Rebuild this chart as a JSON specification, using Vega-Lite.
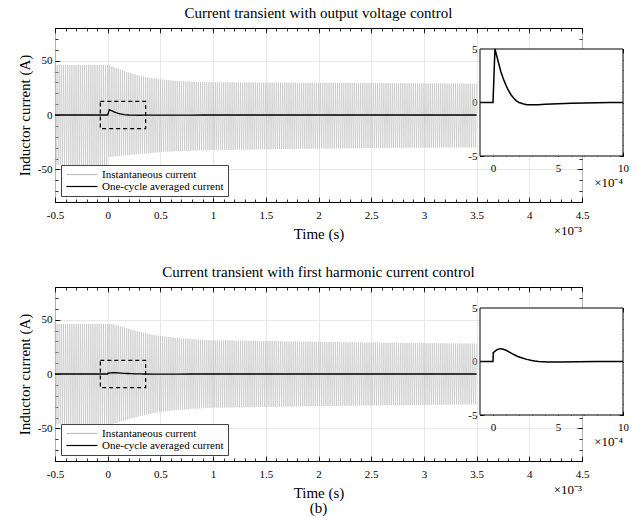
{
"$schema":"https://vega.github.io/schema/vega-lite/v6.json",
"padding":{"left":16,"top":5,"right":4,"bottom":0},
"title":{"text":"(b)","orient":"bottom","anchor":"middle","frame":"group","fontSize":15,"offset":0},
"spacing":22,
"resolve":{"scale":{"color":"independent"},"legend":{"color":"independent"}},
"datasets":{
"g1":[{"t":-0.5,"i":46},{"t":-0.49,"i":-46},{"t":-0.48,"i":46},{"t":-0.47,"i":-46},{"t":-0.46,"i":46},{"t":-0.45,"i":-46},{"t":-0.44,"i":46},{"t":-0.43,"i":-46},{"t":-0.42,"i":46},{"t":-0.41,"i":-46},{"t":-0.4,"i":46},{"t":-0.39,"i":-46},{"t":-0.38,"i":46},{"t":-0.37,"i":-46},{"t":-0.36,"i":46},{"t":-0.35,"i":-46},{"t":-0.34,"i":46},{"t":-0.33,"i":-46},{"t":-0.32,"i":46},{"t":-0.31,"i":-46},{"t":-0.3,"i":46},{"t":-0.29,"i":-46},{"t":-0.28,"i":46},{"t":-0.27,"i":-46},{"t":-0.26,"i":46},{"t":-0.25,"i":-46},{"t":-0.24,"i":46},{"t":-0.23,"i":-46},{"t":-0.22,"i":46},{"t":-0.21,"i":-46},{"t":-0.2,"i":46},{"t":-0.19,"i":-46},{"t":-0.18,"i":46},{"t":-0.17,"i":-46},{"t":-0.16,"i":46},{"t":-0.15,"i":-46},{"t":-0.14,"i":46},{"t":-0.13,"i":-46},{"t":-0.12,"i":46},{"t":-0.11,"i":-46},{"t":-0.1,"i":46},{"t":-0.09,"i":-46},{"t":-0.08,"i":46},{"t":-0.07,"i":-46},{"t":-0.06,"i":46},{"t":-0.05,"i":-46},{"t":-0.04,"i":46},{"t":-0.03,"i":-46},{"t":-0.02,"i":46},{"t":-0.01,"i":-46},{"t":0,"i":46},
{"t":0.01,"i":-38.5},{"t":0.02,"i":45.5},{"t":0.03,"i":-38.4},{"t":0.04,"i":44.8},{"t":0.05,"i":-38.2},{"t":0.06,"i":44},{"t":0.07,"i":-38.1},{"t":0.08,"i":43.2},{"t":0.09,"i":-37.9},{"t":0.1,"i":42.5},{"t":0.11,"i":-37.7},{"t":0.12,"i":41.7},{"t":0.13,"i":-37.5},{"t":0.14,"i":41},{"t":0.15,"i":-37.3},{"t":0.16,"i":40.3},{"t":0.17,"i":-37.1},{"t":0.18,"i":39.6},{"t":0.19,"i":-36.9},{"t":0.2,"i":39},
{"t":0.21,"i":-36.7},{"t":0.22,"i":38.4},{"t":0.23,"i":-36.5},{"t":0.24,"i":37.8},{"t":0.25,"i":-36.3},{"t":0.26,"i":37.3},{"t":0.27,"i":-36.1},{"t":0.28,"i":36.8},{"t":0.29,"i":-35.9},{"t":0.3,"i":36.3},{"t":0.31,"i":-35.7},{"t":0.32,"i":35.8},{"t":0.33,"i":-35.5},{"t":0.34,"i":35.4},{"t":0.35,"i":-35.35},{"t":0.36,"i":35},{"t":0.37,"i":-35.2},{"t":0.38,"i":34.6},{"t":0.39,"i":-35.05},{"t":0.4,"i":34.2},
{"t":0.41,"i":-34.9},{"t":0.42,"i":33.9},{"t":0.43,"i":-34.75},{"t":0.44,"i":33.6},{"t":0.45,"i":-34.6},{"t":0.46,"i":33.3},{"t":0.47,"i":-34.45},{"t":0.48,"i":33},{"t":0.49,"i":-34.3},{"t":0.5,"i":32.8},{"t":0.51,"i":-34.15},{"t":0.52,"i":32.6},{"t":0.53,"i":-34},{"t":0.54,"i":32.4},{"t":0.55,"i":-33.9},{"t":0.56,"i":32.2},{"t":0.57,"i":-33.8},{"t":0.58,"i":32},{"t":0.59,"i":-33.7},{"t":0.6,"i":31.8},
{"t":0.61,"i":-33.6},{"t":0.62,"i":31.7},{"t":0.63,"i":-33.5},{"t":0.64,"i":31.5},{"t":0.65,"i":-33.4},{"t":0.66,"i":31.4},{"t":0.67,"i":-33.3},{"t":0.68,"i":31.2},{"t":0.69,"i":-33.2},{"t":0.7,"i":31.1},{"t":0.71,"i":-33.1},{"t":0.72,"i":31},{"t":0.73,"i":-33},{"t":0.74,"i":30.9},{"t":0.75,"i":-32.9},{"t":0.76,"i":30.8},{"t":0.77,"i":-32.9},{"t":0.78,"i":30.7},{"t":0.79,"i":-32.8},{"t":0.8,"i":30.6},
{"t":0.81,"i":-32.8},{"t":0.82,"i":30.5},{"t":0.83,"i":-32.7},{"t":0.84,"i":30.5},{"t":0.85,"i":-32.7},{"t":0.86,"i":30.4},{"t":0.87,"i":-32.6},{"t":0.88,"i":30.4},{"t":0.89,"i":-32.6},{"t":0.9,"i":30.3},{"t":0.91,"i":-32.5},{"t":0.92,"i":30.3},{"t":0.93,"i":-32.5},{"t":0.94,"i":30.2},{"t":0.95,"i":-32.4},{"t":0.96,"i":30.2},{"t":0.97,"i":-32.4},{"t":0.98,"i":30.1},{"t":0.99,"i":-32.3},{"t":1,"i":30.1},
{"t":1.01,"i":-32.1},{"t":1.02,"i":30},{"t":1.03,"i":-32.1},{"t":1.04,"i":30},{"t":1.05,"i":-32.1},{"t":1.06,"i":30},{"t":1.07,"i":-32.1},{"t":1.08,"i":30},{"t":1.09,"i":-32.1},{"t":1.1,"i":30},{"t":1.11,"i":-32.1},{"t":1.12,"i":30},{"t":1.13,"i":-32.1},{"t":1.14,"i":30},{"t":1.15,"i":-32.1},{"t":1.16,"i":30},{"t":1.17,"i":-32.1},{"t":1.18,"i":30},{"t":1.19,"i":-32.1},{"t":1.2,"i":30},
{"t":1.21,"i":-31.8},{"t":1.22,"i":29.9},{"t":1.23,"i":-31.8},{"t":1.24,"i":29.9},{"t":1.25,"i":-31.8},{"t":1.26,"i":29.9},{"t":1.27,"i":-31.8},{"t":1.28,"i":29.9},{"t":1.29,"i":-31.8},{"t":1.3,"i":29.9},{"t":1.31,"i":-31.8},{"t":1.32,"i":29.9},{"t":1.33,"i":-31.8},{"t":1.34,"i":29.9},{"t":1.35,"i":-31.8},{"t":1.36,"i":29.9},{"t":1.37,"i":-31.8},{"t":1.38,"i":29.9},{"t":1.39,"i":-31.8},{"t":1.4,"i":29.9},
{"t":1.41,"i":-31.5},{"t":1.42,"i":29.8},{"t":1.43,"i":-31.5},{"t":1.44,"i":29.8},{"t":1.45,"i":-31.5},{"t":1.46,"i":29.8},{"t":1.47,"i":-31.5},{"t":1.48,"i":29.8},{"t":1.49,"i":-31.5},{"t":1.5,"i":29.8},{"t":1.51,"i":-31.5},{"t":1.52,"i":29.8},{"t":1.53,"i":-31.5},{"t":1.54,"i":29.8},{"t":1.55,"i":-31.5},{"t":1.56,"i":29.8},{"t":1.57,"i":-31.5},{"t":1.58,"i":29.8},{"t":1.59,"i":-31.5},{"t":1.6,"i":29.8},
{"t":1.61,"i":-31.2},{"t":1.62,"i":29.7},{"t":1.63,"i":-31.2},{"t":1.64,"i":29.7},{"t":1.65,"i":-31.2},{"t":1.66,"i":29.7},{"t":1.67,"i":-31.2},{"t":1.68,"i":29.7},{"t":1.69,"i":-31.2},{"t":1.7,"i":29.7},{"t":1.71,"i":-31.2},{"t":1.72,"i":29.7},{"t":1.73,"i":-31.2},{"t":1.74,"i":29.7},{"t":1.75,"i":-31.2},{"t":1.76,"i":29.7},{"t":1.77,"i":-31.2},{"t":1.78,"i":29.7},{"t":1.79,"i":-31.2},{"t":1.8,"i":29.7},
{"t":1.81,"i":-31},{"t":1.82,"i":29.6},{"t":1.83,"i":-31},{"t":1.84,"i":29.6},{"t":1.85,"i":-31},{"t":1.86,"i":29.6},{"t":1.87,"i":-31},{"t":1.88,"i":29.6},{"t":1.89,"i":-31},{"t":1.9,"i":29.6},{"t":1.91,"i":-31},{"t":1.92,"i":29.6},{"t":1.93,"i":-31},{"t":1.94,"i":29.6},{"t":1.95,"i":-31},{"t":1.96,"i":29.6},{"t":1.97,"i":-31},{"t":1.98,"i":29.6},{"t":1.99,"i":-31},{"t":2,"i":29.6},
{"t":2.01,"i":-30.8},{"t":2.02,"i":29.5},{"t":2.03,"i":-30.8},{"t":2.04,"i":29.5},{"t":2.05,"i":-30.8},{"t":2.06,"i":29.5},{"t":2.07,"i":-30.8},{"t":2.08,"i":29.5},{"t":2.09,"i":-30.8},{"t":2.1,"i":29.5},{"t":2.11,"i":-30.8},{"t":2.12,"i":29.5},{"t":2.13,"i":-30.8},{"t":2.14,"i":29.5},{"t":2.15,"i":-30.8},{"t":2.16,"i":29.5},{"t":2.17,"i":-30.8},{"t":2.18,"i":29.5},{"t":2.19,"i":-30.8},{"t":2.2,"i":29.5},
{"t":2.21,"i":-30.6},{"t":2.22,"i":29.4},{"t":2.23,"i":-30.6},{"t":2.24,"i":29.4},{"t":2.25,"i":-30.6},{"t":2.26,"i":29.4},{"t":2.27,"i":-30.6},{"t":2.28,"i":29.4},{"t":2.29,"i":-30.6},{"t":2.3,"i":29.4},{"t":2.31,"i":-30.6},{"t":2.32,"i":29.4},{"t":2.33,"i":-30.6},{"t":2.34,"i":29.4},{"t":2.35,"i":-30.6},{"t":2.36,"i":29.4},{"t":2.37,"i":-30.6},{"t":2.38,"i":29.4},{"t":2.39,"i":-30.6},{"t":2.4,"i":29.4},
{"t":2.41,"i":-30.4},{"t":2.42,"i":29.3},{"t":2.43,"i":-30.4},{"t":2.44,"i":29.3},{"t":2.45,"i":-30.4},{"t":2.46,"i":29.3},{"t":2.47,"i":-30.4},{"t":2.48,"i":29.3},{"t":2.49,"i":-30.4},{"t":2.5,"i":29.3},{"t":2.51,"i":-30.4},{"t":2.52,"i":29.3},{"t":2.53,"i":-30.4},{"t":2.54,"i":29.3},{"t":2.55,"i":-30.4},{"t":2.56,"i":29.3},{"t":2.57,"i":-30.4},{"t":2.58,"i":29.3},{"t":2.59,"i":-30.4},{"t":2.6,"i":29.3},
{"t":2.61,"i":-30.2},{"t":2.62,"i":29.2},{"t":2.63,"i":-30.2},{"t":2.64,"i":29.2},{"t":2.65,"i":-30.2},{"t":2.66,"i":29.2},{"t":2.67,"i":-30.2},{"t":2.68,"i":29.2},{"t":2.69,"i":-30.2},{"t":2.7,"i":29.2},{"t":2.71,"i":-30.2},{"t":2.72,"i":29.2},{"t":2.73,"i":-30.2},{"t":2.74,"i":29.2},{"t":2.75,"i":-30.2},{"t":2.76,"i":29.2},{"t":2.77,"i":-30.2},{"t":2.78,"i":29.2},{"t":2.79,"i":-30.2},{"t":2.8,"i":29.2},
{"t":2.81,"i":-30.1},{"t":2.82,"i":29.1},{"t":2.83,"i":-30.1},{"t":2.84,"i":29.1},{"t":2.85,"i":-30.1},{"t":2.86,"i":29.1},{"t":2.87,"i":-30.1},{"t":2.88,"i":29.1},{"t":2.89,"i":-30.1},{"t":2.9,"i":29.1},{"t":2.91,"i":-30.1},{"t":2.92,"i":29.1},{"t":2.93,"i":-30.1},{"t":2.94,"i":29.1},{"t":2.95,"i":-30.1},{"t":2.96,"i":29.1},{"t":2.97,"i":-30.1},{"t":2.98,"i":29.1},{"t":2.99,"i":-30.1},{"t":3,"i":29.1},
{"t":3.01,"i":-30},{"t":3.02,"i":29},{"t":3.03,"i":-30},{"t":3.04,"i":29},{"t":3.05,"i":-30},{"t":3.06,"i":29},{"t":3.07,"i":-30},{"t":3.08,"i":29},{"t":3.09,"i":-30},{"t":3.1,"i":29},{"t":3.11,"i":-30},{"t":3.12,"i":29},{"t":3.13,"i":-30},{"t":3.14,"i":29},{"t":3.15,"i":-30},{"t":3.16,"i":29},{"t":3.17,"i":-30},{"t":3.18,"i":29},{"t":3.19,"i":-30},{"t":3.2,"i":29},
{"t":3.21,"i":-29.9},{"t":3.22,"i":28.9},{"t":3.23,"i":-29.9},{"t":3.24,"i":28.9},{"t":3.25,"i":-29.9},{"t":3.26,"i":28.9},{"t":3.27,"i":-29.9},{"t":3.28,"i":28.9},{"t":3.29,"i":-29.9},{"t":3.3,"i":28.9},{"t":3.31,"i":-29.9},{"t":3.32,"i":28.9},{"t":3.33,"i":-29.9},{"t":3.34,"i":28.9},{"t":3.35,"i":-29.9},{"t":3.36,"i":28.9},{"t":3.37,"i":-29.9},{"t":3.38,"i":28.9},{"t":3.39,"i":-29.9},{"t":3.4,"i":28.9},
{"t":3.41,"i":-29.8},{"t":3.42,"i":28.8},{"t":3.43,"i":-29.8},{"t":3.44,"i":28.8},{"t":3.45,"i":-29.8},{"t":3.46,"i":28.8},{"t":3.47,"i":-29.8},{"t":3.48,"i":28.8},{"t":3.49,"i":-29.8},{"t":3.5,"i":28.8}],
"g2":[{"t":-0.5,"i":46},{"t":-0.49,"i":-46},{"t":-0.48,"i":46},{"t":-0.47,"i":-46},{"t":-0.46,"i":46},{"t":-0.45,"i":-46},{"t":-0.44,"i":46},{"t":-0.43,"i":-46},{"t":-0.42,"i":46},{"t":-0.41,"i":-46},{"t":-0.4,"i":46},{"t":-0.39,"i":-46},{"t":-0.38,"i":46},{"t":-0.37,"i":-46},{"t":-0.36,"i":46},{"t":-0.35,"i":-46},{"t":-0.34,"i":46},{"t":-0.33,"i":-46},{"t":-0.32,"i":46},{"t":-0.31,"i":-46},{"t":-0.3,"i":46},{"t":-0.29,"i":-46},{"t":-0.28,"i":46},{"t":-0.27,"i":-46},{"t":-0.26,"i":46},{"t":-0.25,"i":-46},{"t":-0.24,"i":46},{"t":-0.23,"i":-46},{"t":-0.22,"i":46},{"t":-0.21,"i":-46},{"t":-0.2,"i":46},{"t":-0.19,"i":-46},{"t":-0.18,"i":46},{"t":-0.17,"i":-46},{"t":-0.16,"i":46},{"t":-0.15,"i":-46},{"t":-0.14,"i":46},{"t":-0.13,"i":-46},{"t":-0.12,"i":46},{"t":-0.11,"i":-46},{"t":-0.1,"i":46},{"t":-0.09,"i":-46},{"t":-0.08,"i":46},{"t":-0.07,"i":-46},{"t":-0.06,"i":46},{"t":-0.05,"i":-46},{"t":-0.04,"i":46},{"t":-0.03,"i":-46},{"t":-0.02,"i":46},{"t":-0.01,"i":-46},{"t":0,"i":46},
{"t":0.01,"i":-46},{"t":0.02,"i":46},{"t":0.03,"i":-45.9},{"t":0.04,"i":45.8},{"t":0.05,"i":-45.6},{"t":0.06,"i":45.4},{"t":0.07,"i":-45.2},{"t":0.08,"i":45},{"t":0.09,"i":-44.8},{"t":0.1,"i":44.5},{"t":0.11,"i":-44.2},{"t":0.12,"i":44},{"t":0.13,"i":-43.7},{"t":0.14,"i":43.4},{"t":0.15,"i":-43.1},{"t":0.16,"i":42.8},{"t":0.17,"i":-42.5},{"t":0.18,"i":42.2},{"t":0.19,"i":-41.9},{"t":0.2,"i":41.6},
{"t":0.21,"i":-41.3},{"t":0.22,"i":41},{"t":0.23,"i":-40.7},{"t":0.24,"i":40.5},{"t":0.25,"i":-40.2},{"t":0.26,"i":39.9},{"t":0.27,"i":-39.6},{"t":0.28,"i":39.4},{"t":0.29,"i":-39.1},{"t":0.3,"i":38.9},{"t":0.31,"i":-38.6},{"t":0.32,"i":38.4},{"t":0.33,"i":-38.1},{"t":0.34,"i":37.9},{"t":0.35,"i":-37.7},{"t":0.36,"i":37.5},{"t":0.37,"i":-37.3},{"t":0.38,"i":37.1},{"t":0.39,"i":-36.9},{"t":0.4,"i":36.7},
{"t":0.41,"i":-36.5},{"t":0.42,"i":36.3},{"t":0.43,"i":-36.1},{"t":0.44,"i":36},{"t":0.45,"i":-35.8},{"t":0.46,"i":35.6},{"t":0.47,"i":-35.4},{"t":0.48,"i":35.3},{"t":0.49,"i":-35.1},{"t":0.5,"i":35},{"t":0.51,"i":-34.8},{"t":0.52,"i":34.7},{"t":0.53,"i":-34.5},{"t":0.54,"i":34.4},{"t":0.55,"i":-34.3},{"t":0.56,"i":34.2},{"t":0.57,"i":-34},{"t":0.58,"i":33.9},{"t":0.59,"i":-33.8},{"t":0.6,"i":33.7},
{"t":0.61,"i":-33.6},{"t":0.62,"i":33.5},{"t":0.63,"i":-33.4},{"t":0.64,"i":33.3},{"t":0.65,"i":-33.2},{"t":0.66,"i":33.1},{"t":0.67,"i":-33},{"t":0.68,"i":32.9},{"t":0.69,"i":-32.8},{"t":0.7,"i":32.7},{"t":0.71,"i":-32.6},{"t":0.72,"i":32.6},{"t":0.73,"i":-32.5},{"t":0.74,"i":32.4},{"t":0.75,"i":-32.3},{"t":0.76,"i":32.3},{"t":0.77,"i":-32.2},{"t":0.78,"i":32.1},{"t":0.79,"i":-32},{"t":0.8,"i":32},
{"t":0.81,"i":-31.9},{"t":0.82,"i":31.9},{"t":0.83,"i":-31.8},{"t":0.84,"i":31.8},{"t":0.85,"i":-31.7},{"t":0.86,"i":31.7},{"t":0.87,"i":-31.6},{"t":0.88,"i":31.6},{"t":0.89,"i":-31.5},{"t":0.9,"i":31.5},{"t":0.91,"i":-31.4},{"t":0.92,"i":31.4},{"t":0.93,"i":-31.3},{"t":0.94,"i":31.3},{"t":0.95,"i":-31.2},{"t":0.96,"i":31.2},{"t":0.97,"i":-31.1},{"t":0.98,"i":31.1},{"t":0.99,"i":-31},{"t":1,"i":31},
{"t":1.01,"i":-30.9},{"t":1.02,"i":30.9},{"t":1.03,"i":-30.9},{"t":1.04,"i":30.9},{"t":1.05,"i":-30.9},{"t":1.06,"i":30.9},{"t":1.07,"i":-30.9},{"t":1.08,"i":30.9},{"t":1.09,"i":-30.9},{"t":1.1,"i":30.9},{"t":1.11,"i":-30.9},{"t":1.12,"i":30.9},{"t":1.13,"i":-30.9},{"t":1.14,"i":30.9},{"t":1.15,"i":-30.9},{"t":1.16,"i":30.9},{"t":1.17,"i":-30.9},{"t":1.18,"i":30.9},{"t":1.19,"i":-30.9},{"t":1.2,"i":30.9},
{"t":1.21,"i":-30.6},{"t":1.22,"i":30.6},{"t":1.23,"i":-30.6},{"t":1.24,"i":30.6},{"t":1.25,"i":-30.6},{"t":1.26,"i":30.6},{"t":1.27,"i":-30.6},{"t":1.28,"i":30.6},{"t":1.29,"i":-30.6},{"t":1.3,"i":30.6},{"t":1.31,"i":-30.6},{"t":1.32,"i":30.6},{"t":1.33,"i":-30.6},{"t":1.34,"i":30.6},{"t":1.35,"i":-30.6},{"t":1.36,"i":30.6},{"t":1.37,"i":-30.6},{"t":1.38,"i":30.6},{"t":1.39,"i":-30.6},{"t":1.4,"i":30.6},
{"t":1.41,"i":-30.3},{"t":1.42,"i":30.3},{"t":1.43,"i":-30.3},{"t":1.44,"i":30.3},{"t":1.45,"i":-30.3},{"t":1.46,"i":30.3},{"t":1.47,"i":-30.3},{"t":1.48,"i":30.3},{"t":1.49,"i":-30.3},{"t":1.5,"i":30.3},{"t":1.51,"i":-30.3},{"t":1.52,"i":30.3},{"t":1.53,"i":-30.3},{"t":1.54,"i":30.3},{"t":1.55,"i":-30.3},{"t":1.56,"i":30.3},{"t":1.57,"i":-30.3},{"t":1.58,"i":30.3},{"t":1.59,"i":-30.3},{"t":1.6,"i":30.3},
{"t":1.61,"i":-30},{"t":1.62,"i":30},{"t":1.63,"i":-30},{"t":1.64,"i":30},{"t":1.65,"i":-30},{"t":1.66,"i":30},{"t":1.67,"i":-30},{"t":1.68,"i":30},{"t":1.69,"i":-30},{"t":1.7,"i":30},{"t":1.71,"i":-30},{"t":1.72,"i":30},{"t":1.73,"i":-30},{"t":1.74,"i":30},{"t":1.75,"i":-30},{"t":1.76,"i":30},{"t":1.77,"i":-30},{"t":1.78,"i":30},{"t":1.79,"i":-30},{"t":1.8,"i":30},
{"t":1.81,"i":-29.7},{"t":1.82,"i":29.7},{"t":1.83,"i":-29.7},{"t":1.84,"i":29.7},{"t":1.85,"i":-29.7},{"t":1.86,"i":29.7},{"t":1.87,"i":-29.7},{"t":1.88,"i":29.7},{"t":1.89,"i":-29.7},{"t":1.9,"i":29.7},{"t":1.91,"i":-29.7},{"t":1.92,"i":29.7},{"t":1.93,"i":-29.7},{"t":1.94,"i":29.7},{"t":1.95,"i":-29.7},{"t":1.96,"i":29.7},{"t":1.97,"i":-29.7},{"t":1.98,"i":29.7},{"t":1.99,"i":-29.7},{"t":2,"i":29.7},
{"t":2.01,"i":-29.4},{"t":2.02,"i":29.4},{"t":2.03,"i":-29.4},{"t":2.04,"i":29.4},{"t":2.05,"i":-29.4},{"t":2.06,"i":29.4},{"t":2.07,"i":-29.4},{"t":2.08,"i":29.4},{"t":2.09,"i":-29.4},{"t":2.1,"i":29.4},{"t":2.11,"i":-29.4},{"t":2.12,"i":29.4},{"t":2.13,"i":-29.4},{"t":2.14,"i":29.4},{"t":2.15,"i":-29.4},{"t":2.16,"i":29.4},{"t":2.17,"i":-29.4},{"t":2.18,"i":29.4},{"t":2.19,"i":-29.4},{"t":2.2,"i":29.4},
{"t":2.21,"i":-29.1},{"t":2.22,"i":29.1},{"t":2.23,"i":-29.1},{"t":2.24,"i":29.1},{"t":2.25,"i":-29.1},{"t":2.26,"i":29.1},{"t":2.27,"i":-29.1},{"t":2.28,"i":29.1},{"t":2.29,"i":-29.1},{"t":2.3,"i":29.1},{"t":2.31,"i":-29.1},{"t":2.32,"i":29.1},{"t":2.33,"i":-29.1},{"t":2.34,"i":29.1},{"t":2.35,"i":-29.1},{"t":2.36,"i":29.1},{"t":2.37,"i":-29.1},{"t":2.38,"i":29.1},{"t":2.39,"i":-29.1},{"t":2.4,"i":29.1},
{"t":2.41,"i":-28.9},{"t":2.42,"i":28.9},{"t":2.43,"i":-28.9},{"t":2.44,"i":28.9},{"t":2.45,"i":-28.9},{"t":2.46,"i":28.9},{"t":2.47,"i":-28.9},{"t":2.48,"i":28.9},{"t":2.49,"i":-28.9},{"t":2.5,"i":28.9},{"t":2.51,"i":-28.9},{"t":2.52,"i":28.9},{"t":2.53,"i":-28.9},{"t":2.54,"i":28.9},{"t":2.55,"i":-28.9},{"t":2.56,"i":28.9},{"t":2.57,"i":-28.9},{"t":2.58,"i":28.9},{"t":2.59,"i":-28.9},{"t":2.6,"i":28.9},
{"t":2.61,"i":-28.7},{"t":2.62,"i":28.7},{"t":2.63,"i":-28.7},{"t":2.64,"i":28.7},{"t":2.65,"i":-28.7},{"t":2.66,"i":28.7},{"t":2.67,"i":-28.7},{"t":2.68,"i":28.7},{"t":2.69,"i":-28.7},{"t":2.7,"i":28.7},{"t":2.71,"i":-28.7},{"t":2.72,"i":28.7},{"t":2.73,"i":-28.7},{"t":2.74,"i":28.7},{"t":2.75,"i":-28.7},{"t":2.76,"i":28.7},{"t":2.77,"i":-28.7},{"t":2.78,"i":28.7},{"t":2.79,"i":-28.7},{"t":2.8,"i":28.7},
{"t":2.81,"i":-28.5},{"t":2.82,"i":28.5},{"t":2.83,"i":-28.5},{"t":2.84,"i":28.5},{"t":2.85,"i":-28.5},{"t":2.86,"i":28.5},{"t":2.87,"i":-28.5},{"t":2.88,"i":28.5},{"t":2.89,"i":-28.5},{"t":2.9,"i":28.5},{"t":2.91,"i":-28.5},{"t":2.92,"i":28.5},{"t":2.93,"i":-28.5},{"t":2.94,"i":28.5},{"t":2.95,"i":-28.5},{"t":2.96,"i":28.5},{"t":2.97,"i":-28.5},{"t":2.98,"i":28.5},{"t":2.99,"i":-28.5},{"t":3,"i":28.5},
{"t":3.01,"i":-28.3},{"t":3.02,"i":28.3},{"t":3.03,"i":-28.3},{"t":3.04,"i":28.3},{"t":3.05,"i":-28.3},{"t":3.06,"i":28.3},{"t":3.07,"i":-28.3},{"t":3.08,"i":28.3},{"t":3.09,"i":-28.3},{"t":3.1,"i":28.3},{"t":3.11,"i":-28.3},{"t":3.12,"i":28.3},{"t":3.13,"i":-28.3},{"t":3.14,"i":28.3},{"t":3.15,"i":-28.3},{"t":3.16,"i":28.3},{"t":3.17,"i":-28.3},{"t":3.18,"i":28.3},{"t":3.19,"i":-28.3},{"t":3.2,"i":28.3},
{"t":3.21,"i":-28.1},{"t":3.22,"i":28.1},{"t":3.23,"i":-28.1},{"t":3.24,"i":28.1},{"t":3.25,"i":-28.1},{"t":3.26,"i":28.1},{"t":3.27,"i":-28.1},{"t":3.28,"i":28.1},{"t":3.29,"i":-28.1},{"t":3.3,"i":28.1},{"t":3.31,"i":-28.1},{"t":3.32,"i":28.1},{"t":3.33,"i":-28.1},{"t":3.34,"i":28.1},{"t":3.35,"i":-28.1},{"t":3.36,"i":28.1},{"t":3.37,"i":-28.1},{"t":3.38,"i":28.1},{"t":3.39,"i":-28.1},{"t":3.4,"i":28.1},
{"t":3.41,"i":-28},{"t":3.42,"i":28},{"t":3.43,"i":-28},{"t":3.44,"i":28},{"t":3.45,"i":-28},{"t":3.46,"i":28},{"t":3.47,"i":-28},{"t":3.48,"i":28},{"t":3.49,"i":-28},{"t":3.5,"i":28}],
"a1":[{"t":-0.5,"v":0},{"t":0,"v":0},{"t":0.015,"v":5},{"t":0.03,"v":4.3},{"t":0.045,"v":3.6},{"t":0.06,"v":2.9},{"t":0.08,"v":2.2},{"t":0.1,"v":1.6},{"t":0.12,"v":1.1},{"t":0.14,"v":0.7},{"t":0.16,"v":0.4},{"t":0.18,"v":0.15},{"t":0.2,"v":0},{"t":0.23,"v":-0.12},{"t":0.26,"v":-0.2},{"t":0.3,"v":-0.22},{"t":0.35,"v":-0.2},{"t":0.4,"v":-0.17},{"t":0.5,"v":-0.12},{"t":0.6,"v":-0.08},{"t":0.7,"v":-0.05},{"t":0.8,"v":-0.03},{"t":0.9,"v":-0.01},{"t":1,"v":0},{"t":3.5,"v":0}],
"n1":[{"x":-1,"v":0},{"x":0,"v":0},{"x":0.15,"v":5},{"x":0.3,"v":4.3},{"x":0.45,"v":3.6},{"x":0.6,"v":2.9},{"x":0.8,"v":2.2},{"x":1,"v":1.6},{"x":1.2,"v":1.1},{"x":1.4,"v":0.7},{"x":1.6,"v":0.4},{"x":1.8,"v":0.15},{"x":2,"v":0},{"x":2.3,"v":-0.12},{"x":2.6,"v":-0.2},{"x":3,"v":-0.22},{"x":3.5,"v":-0.2},{"x":4,"v":-0.17},{"x":5,"v":-0.12},{"x":6,"v":-0.08},{"x":7,"v":-0.05},{"x":8,"v":-0.03},{"x":9,"v":-0.01},{"x":10,"v":0}],
"a2":[{"t":-0.5,"v":0},{"t":0,"v":0},{"t":0.002,"v":0.85},{"t":0.01,"v":0.9},{"t":0.03,"v":1.1},{"t":0.055,"v":1.2},{"t":0.08,"v":1.15},{"t":0.1,"v":1.05},{"t":0.13,"v":0.85},{"t":0.16,"v":0.65},{"t":0.19,"v":0.47},{"t":0.225,"v":0.32},{"t":0.26,"v":0.2},{"t":0.29,"v":0.12},{"t":0.32,"v":0.05},{"t":0.35,"v":0},{"t":0.42,"v":-0.05},{"t":0.52,"v":-0.05},{"t":0.65,"v":-0.03},{"t":0.8,"v":-0.01},{"t":1,"v":0},{"t":3.5,"v":0}],
"n2":[{"x":-1,"v":0},{"x":0,"v":0},{"x":0.02,"v":0.85},{"x":0.1,"v":0.9},{"x":0.3,"v":1.1},{"x":0.55,"v":1.2},{"x":0.8,"v":1.15},{"x":1,"v":1.05},{"x":1.3,"v":0.85},{"x":1.6,"v":0.65},{"x":1.9,"v":0.47},{"x":2.25,"v":0.32},{"x":2.6,"v":0.2},{"x":2.9,"v":0.12},{"x":3.2,"v":0.05},{"x":3.5,"v":0},{"x":4.2,"v":-0.05},{"x":5.2,"v":-0.05},{"x":6.5,"v":-0.03},{"x":8,"v":-0.01},{"x":10,"v":0}],
"box":[{"t0":-0.07,"t1":0.36,"v0":-12.5,"v1":12.5}],
"m3":[{"t":4.5,"v":-80,"s":"×10⁻³"}],
"ibox":[{"x0":-1,"x1":10,"y0":-5,"y1":5}],
"m4":[{"x":10,"v":-5,"s":"×10⁻⁴"}]
},
"vconcat":[
{"width":527,"height":174,
 "title":{"text":"Current transient with output voltage control","frame":"group","offset":7},
 "layer":[
  {"layer":[
    {"data":{"name":"g1"},"mark":{"type":"line","strokeWidth":0.6},
     "encoding":{
      "x":{"field":"t","type":"quantitative","scale":{"domain":[-0.5,4.5],"nice":false,"zero":false},"axis":{"orient":"bottom","values":[-0.5,0,0.5,1,1.5,2,2.5,3,3.5,4,4.5],"tickSize":-5,"labelPadding":12,"grid":true,"title":"Time (s)","titlePadding":6,"labelFont":"Liberation Serif","labelExpr":"replace(format(datum.value,'~g'),'\u2212','-')"}},
      "y":{"field":"i","type":"quantitative","scale":{"domain":[-80,80],"nice":false,"zero":false},"axis":{"orient":"left","values":[-50,0,50],"tickSize":-5,"labelPadding":8,"grid":true,"title":"Inductor current (A)","titlePadding":5,"labelFont":"Liberation Serif","labelExpr":"replace(format(datum.value,'~g'),'\u2212','-')"}},
      "color":{"datum":"Instantaneous current","type":"nominal","scale":{"domain":["Instantaneous current","One-cycle averaged current"],"range":["#bdbdbd","black"]},"legend":{"orient":"bottom-left","offset":6,"title":null,"labelFont":"Liberation Serif"}}
     }},
    {"data":{"name":"a1"},"mark":{"type":"line","strokeWidth":1.3},
     "encoding":{
      "x":{"field":"t","type":"quantitative","scale":{"domain":[-0.5,4.5],"nice":false,"zero":false},"axis":{"orient":"top","values":[-0.5,0,0.5,1,1.5,2,2.5,3,3.5,4,4.5],"tickSize":-5,"labels":false,"grid":false,"title":null}},
      "y":{"field":"v","type":"quantitative","scale":{"domain":[-80,80],"nice":false,"zero":false},"axis":{"orient":"right","values":[-50,0,50],"tickSize":-5,"labels":false,"grid":false,"title":null}},
      "color":{"datum":"One-cycle averaged current","type":"nominal"}
     }},
    {"data":{"name":"box"},"mark":{"type":"rect","filled":false,"color":"black","strokeWidth":1.2,"strokeDash":[4,3]},
     "encoding":{
      "x":{"field":"t0","type":"quantitative","scale":{"domain":[-0.5,4.5],"nice":false,"zero":false},"axis":{"orient":"bottom","values":[-0.5,-0.4,-0.3,-0.2,-0.1,0,0.1,0.2,0.3,0.4,0.5,0.6,0.7,0.8,0.9,1,1.1,1.2,1.3,1.4,1.5,1.6,1.7,1.8,1.9,2,2.1,2.2,2.3,2.4,2.5,2.6,2.7,2.8,2.9,3,3.1,3.2,3.3,3.4,3.5,3.6,3.7,3.8,3.9,4,4.1,4.2,4.3,4.4,4.5],"tickSize":-3,"labels":false,"grid":false,"title":null}},
      "x2":{"field":"t1"},
      "y":{"field":"v0","type":"quantitative","scale":{"domain":[-80,80],"nice":false,"zero":false},"axis":{"orient":"left","values":[-80,-70,-60,-50,-40,-30,-20,-10,0,10,20,30,40,50,60,70,80],"tickSize":-3,"labels":false,"grid":false,"title":null}},
      "y2":{"field":"v1"}
     }},
    {"data":{"name":"m3"},"mark":{"type":"text","align":"right","baseline":"middle","dy":29,"fontSize":13,"font":"Liberation Serif"},
     "encoding":{
      "x":{"field":"t","type":"quantitative","scale":{"domain":[-0.5,4.5],"nice":false,"zero":false},"axis":{"orient":"top","values":[-0.5,-0.4,-0.3,-0.2,-0.1,0,0.1,0.2,0.3,0.4,0.5,0.6,0.7,0.8,0.9,1,1.1,1.2,1.3,1.4,1.5,1.6,1.7,1.8,1.9,2,2.1,2.2,2.3,2.4,2.5,2.6,2.7,2.8,2.9,3,3.1,3.2,3.3,3.4,3.5,3.6,3.7,3.8,3.9,4,4.1,4.2,4.3,4.4,4.5],"tickSize":-3,"labels":false,"grid":false,"title":null}},
      "y":{"field":"v","type":"quantitative","scale":{"domain":[-80,80],"nice":false,"zero":false},"axis":{"orient":"right","values":[-80,-70,-60,-50,-40,-30,-20,-10,0,10,20,30,40,50,60,70,80],"tickSize":-3,"labels":false,"grid":false,"title":null}},
      "text":{"field":"s"}
     }}
   ],
   "resolve":{"axis":{"x":"independent","y":"independent"}}},
  {"layer":[
    {"data":{"name":"ibox"},"mark":{"type":"rect","fill":"white","strokeWidth":0},
     "encoding":{
      "x":{"field":"x0","type":"quantitative","scale":{"domain":[-1,10],"range":[425,568],"nice":false,"zero":false},"axis":{"orient":"bottom","offset":-46,"values":[0,5,10],"tickSize":-4,"labelPadding":10,"grid":false,"title":null,"labelFont":"Liberation Serif","labelExpr":"replace(format(datum.value,'~g'),'\u2212','-')"}},
      "x2":{"field":"x1"},
      "y":{"field":"y0","type":"quantitative","scale":{"domain":[-5,5],"range":[128,21],"nice":false,"zero":false},"axis":{"orient":"left","offset":-425,"values":[-5,0,5],"tickSize":-4,"labelPadding":7,"grid":false,"title":null,"labelFont":"Liberation Serif","labelExpr":"replace(format(datum.value,'~g'),'\u2212','-')"}},
      "y2":{"field":"y1"}
     }},
    {"data":{"name":"n1"},"mark":{"type":"line","color":"black","strokeWidth":1.5},
     "encoding":{
      "x":{"field":"x","type":"quantitative","scale":{"domain":[-1,10],"range":[425,568],"nice":false,"zero":false},"axis":{"orient":"top","offset":-21,"values":[0,5,10],"tickSize":-4,"labels":false,"grid":false,"title":null}},
      "y":{"field":"v","type":"quantitative","scale":{"domain":[-5,5],"range":[128,21],"nice":false,"zero":false},"axis":{"orient":"right","offset":41,"values":[-5,0,5],"tickSize":-4,"labels":false,"grid":false,"title":null}}
     }},
    {"data":{"name":"m4"},"mark":{"type":"text","align":"right","baseline":"middle","dy":27,"fontSize":13,"font":"Liberation Serif"},
     "encoding":{
      "x":{"field":"x","type":"quantitative","scale":{"domain":[-1,10],"range":[425,568],"nice":false,"zero":false},"axis":{"orient":"bottom","offset":-46,"values":[-1,0,1,2,3,4,5,6,7,8,9,10],"tickSize":-2.5,"labels":false,"grid":false,"title":null}},
      "y":{"field":"v","type":"quantitative","scale":{"domain":[-5,5],"range":[128,21],"nice":false,"zero":false},"axis":{"orient":"left","offset":-425,"values":[-5,-4,-3,-2,-1,0,1,2,3,4,5],"tickSize":-2.5,"labels":false,"grid":false,"title":null}},
      "text":{"field":"s"}
     }},
    {"data":{"name":"ibox"},"mark":{"type":"rect","filled":false,"color":"black","strokeWidth":1},
     "encoding":{
      "x":{"field":"x0","type":"quantitative","scale":{"domain":[-1,10],"range":[425,568],"nice":false,"zero":false},"axis":{"orient":"top","offset":-21,"values":[-1,0,1,2,3,4,5,6,7,8,9,10],"tickSize":-2.5,"labels":false,"grid":false,"title":null}},
      "x2":{"field":"x1"},
      "y":{"field":"y0","type":"quantitative","scale":{"domain":[-5,5],"range":[128,21],"nice":false,"zero":false},"axis":{"orient":"right","offset":41,"values":[-5,-4,-3,-2,-1,0,1,2,3,4,5],"tickSize":-2.5,"labels":false,"grid":false,"title":null}},
      "y2":{"field":"y1"}
     }}
   ],
   "resolve":{"axis":{"x":"independent","y":"independent"}}}
 ],
 "resolve":{"scale":{"x":"independent","y":"independent"}}
},
{"width":527,"height":174,
 "title":{"text":"Current transient with first harmonic current control","frame":"group","offset":7},
 "layer":[
  {"layer":[
    {"data":{"name":"g2"},"mark":{"type":"line","strokeWidth":0.6},
     "encoding":{
      "x":{"field":"t","type":"quantitative","scale":{"domain":[-0.5,4.5],"nice":false,"zero":false},"axis":{"orient":"bottom","values":[-0.5,0,0.5,1,1.5,2,2.5,3,3.5,4,4.5],"tickSize":-5,"labelPadding":12,"grid":true,"title":"Time (s)","titlePadding":6,"labelFont":"Liberation Serif","labelExpr":"replace(format(datum.value,'~g'),'\u2212','-')"}},
      "y":{"field":"i","type":"quantitative","scale":{"domain":[-80,80],"nice":false,"zero":false},"axis":{"orient":"left","values":[-50,0,50],"tickSize":-5,"labelPadding":8,"grid":true,"title":"Inductor current (A)","titlePadding":5,"labelFont":"Liberation Serif","labelExpr":"replace(format(datum.value,'~g'),'\u2212','-')"}},
      "color":{"datum":"Instantaneous current","type":"nominal","scale":{"domain":["Instantaneous current","One-cycle averaged current"],"range":["#bdbdbd","black"]},"legend":{"orient":"bottom-left","offset":6,"title":null,"labelFont":"Liberation Serif"}}
     }},
    {"data":{"name":"a2"},"mark":{"type":"line","strokeWidth":1.3},
     "encoding":{
      "x":{"field":"t","type":"quantitative","scale":{"domain":[-0.5,4.5],"nice":false,"zero":false},"axis":{"orient":"top","values":[-0.5,0,0.5,1,1.5,2,2.5,3,3.5,4,4.5],"tickSize":-5,"labels":false,"grid":false,"title":null}},
      "y":{"field":"v","type":"quantitative","scale":{"domain":[-80,80],"nice":false,"zero":false},"axis":{"orient":"right","values":[-50,0,50],"tickSize":-5,"labels":false,"grid":false,"title":null}},
      "color":{"datum":"One-cycle averaged current","type":"nominal"}
     }},
    {"data":{"name":"box"},"mark":{"type":"rect","filled":false,"color":"black","strokeWidth":1.2,"strokeDash":[4,3]},
     "encoding":{
      "x":{"field":"t0","type":"quantitative","scale":{"domain":[-0.5,4.5],"nice":false,"zero":false},"axis":{"orient":"bottom","values":[-0.5,-0.4,-0.3,-0.2,-0.1,0,0.1,0.2,0.3,0.4,0.5,0.6,0.7,0.8,0.9,1,1.1,1.2,1.3,1.4,1.5,1.6,1.7,1.8,1.9,2,2.1,2.2,2.3,2.4,2.5,2.6,2.7,2.8,2.9,3,3.1,3.2,3.3,3.4,3.5,3.6,3.7,3.8,3.9,4,4.1,4.2,4.3,4.4,4.5],"tickSize":-3,"labels":false,"grid":false,"title":null}},
      "x2":{"field":"t1"},
      "y":{"field":"v0","type":"quantitative","scale":{"domain":[-80,80],"nice":false,"zero":false},"axis":{"orient":"left","values":[-80,-70,-60,-50,-40,-30,-20,-10,0,10,20,30,40,50,60,70,80],"tickSize":-3,"labels":false,"grid":false,"title":null}},
      "y2":{"field":"v1"}
     }},
    {"data":{"name":"m3"},"mark":{"type":"text","align":"right","baseline":"middle","dy":29,"fontSize":13,"font":"Liberation Serif"},
     "encoding":{
      "x":{"field":"t","type":"quantitative","scale":{"domain":[-0.5,4.5],"nice":false,"zero":false},"axis":{"orient":"top","values":[-0.5,-0.4,-0.3,-0.2,-0.1,0,0.1,0.2,0.3,0.4,0.5,0.6,0.7,0.8,0.9,1,1.1,1.2,1.3,1.4,1.5,1.6,1.7,1.8,1.9,2,2.1,2.2,2.3,2.4,2.5,2.6,2.7,2.8,2.9,3,3.1,3.2,3.3,3.4,3.5,3.6,3.7,3.8,3.9,4,4.1,4.2,4.3,4.4,4.5],"tickSize":-3,"labels":false,"grid":false,"title":null}},
      "y":{"field":"v","type":"quantitative","scale":{"domain":[-80,80],"nice":false,"zero":false},"axis":{"orient":"right","values":[-80,-70,-60,-50,-40,-30,-20,-10,0,10,20,30,40,50,60,70,80],"tickSize":-3,"labels":false,"grid":false,"title":null}},
      "text":{"field":"s"}
     }}
   ],
   "resolve":{"axis":{"x":"independent","y":"independent"}}},
  {"layer":[
    {"data":{"name":"ibox"},"mark":{"type":"rect","fill":"white","strokeWidth":0},
     "encoding":{
      "x":{"field":"x0","type":"quantitative","scale":{"domain":[-1,10],"range":[425,568],"nice":false,"zero":false},"axis":{"orient":"bottom","offset":-46,"values":[0,5,10],"tickSize":-4,"labelPadding":10,"grid":false,"title":null,"labelFont":"Liberation Serif","labelExpr":"replace(format(datum.value,'~g'),'\u2212','-')"}},
      "x2":{"field":"x1"},
      "y":{"field":"y0","type":"quantitative","scale":{"domain":[-5,5],"range":[128,21],"nice":false,"zero":false},"axis":{"orient":"left","offset":-425,"values":[-5,0,5],"tickSize":-4,"labelPadding":7,"grid":false,"title":null,"labelFont":"Liberation Serif","labelExpr":"replace(format(datum.value,'~g'),'\u2212','-')"}},
      "y2":{"field":"y1"}
     }},
    {"data":{"name":"n2"},"mark":{"type":"line","color":"black","strokeWidth":1.5},
     "encoding":{
      "x":{"field":"x","type":"quantitative","scale":{"domain":[-1,10],"range":[425,568],"nice":false,"zero":false},"axis":{"orient":"top","offset":-21,"values":[0,5,10],"tickSize":-4,"labels":false,"grid":false,"title":null}},
      "y":{"field":"v","type":"quantitative","scale":{"domain":[-5,5],"range":[128,21],"nice":false,"zero":false},"axis":{"orient":"right","offset":41,"values":[-5,0,5],"tickSize":-4,"labels":false,"grid":false,"title":null}}
     }},
    {"data":{"name":"m4"},"mark":{"type":"text","align":"right","baseline":"middle","dy":27,"fontSize":13,"font":"Liberation Serif"},
     "encoding":{
      "x":{"field":"x","type":"quantitative","scale":{"domain":[-1,10],"range":[425,568],"nice":false,"zero":false},"axis":{"orient":"bottom","offset":-46,"values":[-1,0,1,2,3,4,5,6,7,8,9,10],"tickSize":-2.5,"labels":false,"grid":false,"title":null}},
      "y":{"field":"v","type":"quantitative","scale":{"domain":[-5,5],"range":[128,21],"nice":false,"zero":false},"axis":{"orient":"left","offset":-425,"values":[-5,-4,-3,-2,-1,0,1,2,3,4,5],"tickSize":-2.5,"labels":false,"grid":false,"title":null}},
      "text":{"field":"s"}
     }},
    {"data":{"name":"ibox"},"mark":{"type":"rect","filled":false,"color":"black","strokeWidth":1},
     "encoding":{
      "x":{"field":"x0","type":"quantitative","scale":{"domain":[-1,10],"range":[425,568],"nice":false,"zero":false},"axis":{"orient":"top","offset":-21,"values":[-1,0,1,2,3,4,5,6,7,8,9,10],"tickSize":-2.5,"labels":false,"grid":false,"title":null}},
      "x2":{"field":"x1"},
      "y":{"field":"y0","type":"quantitative","scale":{"domain":[-5,5],"range":[128,21],"nice":false,"zero":false},"axis":{"orient":"right","offset":41,"values":[-5,-4,-3,-2,-1,0,1,2,3,4,5],"tickSize":-2.5,"labels":false,"grid":false,"title":null}},
      "y2":{"field":"y1"}
     }}
   ],
   "resolve":{"axis":{"x":"independent","y":"independent"}}}
 ],
 "resolve":{"scale":{"x":"independent","y":"independent"}}
}
],
"config":{
 "font":"Liberation Serif",
 "view":{"stroke":"black","strokeWidth":1},
 "axis":{"domain":false,"tickColor":"black","tickWidth":0.8,"labelFont":"Liberation Serif","labelFontSize":11,"labelColor":"black","titleFont":"Liberation Serif","titleFontSize":15,"titleFontWeight":"normal","titleColor":"black","gridColor":"#e2e2e2","gridWidth":0.8,"labelOverlap":false,"labelFlush":false},
 "legend":{"fillColor":"white","strokeColor":"#444444","padding":4,"symbolType":"M-1,0L6.75,0","symbolSize":64,"symbolStrokeWidth":1.2,"labelFont":"Liberation Serif","labelFontSize":11,"labelColor":"black","rowPadding":0,"labelOffset":26,"cornerRadius":0},
 "title":{"font":"Liberation Serif","fontSize":15,"fontWeight":"normal","color":"black"},
 "text":{"font":"Liberation Serif"}
}
}
